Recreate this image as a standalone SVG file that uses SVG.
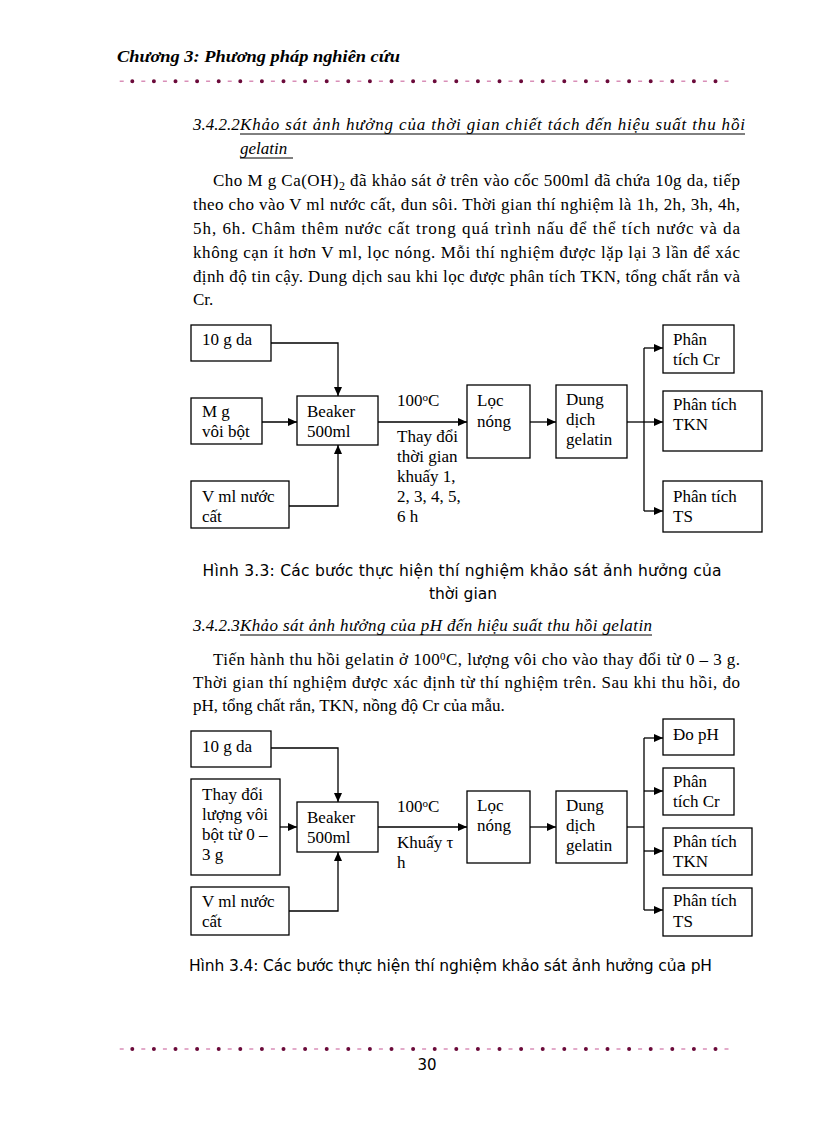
<svg xmlns="http://www.w3.org/2000/svg" width="816" height="1123" viewBox="0 0 816 1123">
<defs>
<marker id="ah" markerUnits="userSpaceOnUse" markerWidth="9" markerHeight="8" refX="9" refY="4" orient="auto">
<path d="M0,0 L9,4 L0,8 z" fill="#000"/>
</marker>
<style>
.box{fill:#fff;stroke:#000;stroke-width:1.3}
.bt{font-family:"Liberation Serif","DejaVu Serif",serif;font-size:17px;fill:#000}
.body{font-family:"Liberation Serif","DejaVu Serif",serif;font-size:17px;fill:#000}
.head{font-family:"Liberation Serif","DejaVu Serif",serif;font-size:17px;font-style:italic;fill:#000}
.cap{font-family:"DejaVu Sans","Liberation Sans",sans-serif;font-size:15.5px;fill:#000}
.con{fill:none;stroke:#000;stroke-width:1.3}
.arr{fill:none;stroke:#000;stroke-width:1.3;marker-end:url(#ah)}
.ul{stroke:#000;stroke-width:1}
</style>
</defs>
<rect width="816" height="1123" fill="#fff"/>

<g id="header">
<text x="117" y="62" font-family="Liberation Serif, serif" font-size="17" font-style="italic" font-weight="bold" textLength="283" lengthAdjust="spacingAndGlyphs">Chương 3:  Phương pháp nghiên cứu</text>
<line x1="119.7" y1="81.3" x2="730" y2="81.3" stroke="#d98fb8" stroke-width="1.5" stroke-dasharray="4 17.6"/>
<line x1="132.3" y1="81.3" x2="730" y2="81.3" stroke="#6b0a3a" stroke-width="4" stroke-linecap="round" stroke-dasharray="0 21.6"/>
</g>

<g id="section1">
<text class="head" x="193" y="130">3.4.2.2</text>
<text class="head" x="240" y="130" textLength="505" lengthAdjust="spacing">Khảo sát ảnh hưởng của thời gian chiết tách đến hiệu suất thu hồi</text>
<line class="ul" x1="240" y1="134" x2="745" y2="134"/>
<text class="head" x="240" y="154">gelatin</text>
<line class="ul" x1="240" y1="158" x2="293" y2="158"/>
<text class="body" x="213" y="186" textLength="527" lengthAdjust="spacing">Cho M g Ca(OH)<tspan font-size="12" dy="4">2</tspan><tspan dy="-4"> đã khảo sát ở trên vào  cốc 500ml đã chứa 10g da, tiếp</tspan></text>
<text class="body" x="193" y="210" textLength="547" lengthAdjust="spacing">theo cho vào V ml nước cất, đun sôi. Thời gian thí nghiệm là 1h, 2h, 3h, 4h,</text>
<text class="body" x="193" y="234" textLength="547" lengthAdjust="spacing">5h, 6h. Châm thêm nước cất trong quá trình nấu để thể tích nước và da</text>
<text class="body" x="193" y="258" textLength="547" lengthAdjust="spacing">không cạn ít hơn V ml, lọc nóng. Mỗi thí nghiệm được lặp lại 3 lần để xác</text>
<text class="body" x="193" y="282" textLength="547" lengthAdjust="spacing">định độ tin cậy. Dung dịch sau khi lọc được phân tích TKN, tổng chất rắn và</text>
<text class="body" x="193" y="305">Cr.</text>
</g>

<g id="connectors1">
<polyline class="arr" points="271,343 338,343 338,396"/>
<line class="arr" x1="262" y1="422" x2="297" y2="422"/>
<polyline class="arr" points="289,506 338,506 338,445"/>
<line class="arr" x1="378" y1="422" x2="467" y2="422"/>
<line class="arr" x1="530" y1="422" x2="556" y2="422"/>
<line class="con" x1="627" y1="422" x2="644" y2="422"/>
<line class="con" x1="644" y1="348" x2="644" y2="511"/>
<line class="arr" x1="644" y1="348" x2="663" y2="348"/>
<line class="arr" x1="644" y1="422" x2="663" y2="422"/>
<line class="arr" x1="644" y1="511" x2="663" y2="511"/>
<text class="bt" x="397" y="406">100<tspan font-size="11" dy="-5">o</tspan><tspan dy="5">C</tspan></text>
<text class="bt" x="397" y="442">Thay  đổi</text>
<text class="bt" x="397" y="462">thời gian</text>
<text class="bt" x="397" y="482">khuấy  1,</text>
<text class="bt" x="397" y="502">2, 3, 4, 5,</text>
<text class="bt" x="397" y="522">6 h</text>
</g>

<g id="d1-da">
<rect class="box" x="191" y="325" width="80" height="36"/>
<text class="bt" x="202" y="345">10 g da</text>
</g>
<g id="d1-voi">
<rect class="box" x="191" y="398" width="71" height="46"/>
<text class="bt" x="202" y="417">M g</text>
<text class="bt" x="202" y="437">vôi bột</text>
</g>
<g id="d1-nuoc">
<rect class="box" x="191" y="481" width="98" height="47"/>
<text class="bt" x="202" y="502">V ml nước</text>
<text class="bt" x="202" y="522">cất</text>
</g>
<g id="d1-beaker">
<rect class="box" x="297" y="396" width="81" height="49"/>
<text class="bt" x="307" y="417">Beaker</text>
<text class="bt" x="307" y="437">500ml</text>
</g>
<g id="d1-loc">
<rect class="box" x="467" y="385" width="63" height="73"/>
<text class="bt" x="477" y="406">Lọc</text>
<text class="bt" x="477" y="427">nóng</text>
</g>
<g id="d1-dung">
<rect class="box" x="556" y="385" width="71" height="73"/>
<text class="bt" x="566" y="405">Dung</text>
<text class="bt" x="566" y="425">dịch</text>
<text class="bt" x="566" y="445">gelatin</text>
</g>
<g id="d1-cr">
<rect class="box" x="663" y="325" width="71" height="48"/>
<text class="bt" x="673" y="345">Phân</text>
<text class="bt" x="673" y="365">tích Cr</text>
</g>
<g id="d1-tkn">
<rect class="box" x="663" y="391" width="99" height="60"/>
<text class="bt" x="673" y="410">Phân tích</text>
<text class="bt" x="673" y="430">TKN</text>
</g>
<g id="d1-ts">
<rect class="box" x="663" y="481" width="99" height="51"/>
<text class="bt" x="673" y="502">Phân tích</text>
<text class="bt" x="673" y="522">TS</text>
</g>

<g id="caption1">
<text class="cap" x="462" y="576" text-anchor="middle" textLength="519" lengthAdjust="spacing">Hình 3.3: Các bước thực hiện thí nghiệm khảo sát ảnh hưởng của</text>
<text class="cap" x="463" y="599" text-anchor="middle">thời gian</text>
</g>

<g id="section2">
<text class="head" x="193" y="631">3.4.2.3</text>
<text class="head" x="240" y="631" textLength="412" lengthAdjust="spacing">Khảo sát ảnh hưởng của pH đến hiệu suất thu hồi gelatin</text>
<line class="ul" x1="240" y1="635" x2="652" y2="635"/>
<text class="body" x="213" y="665" textLength="527" lengthAdjust="spacing">Tiến hành thu hồi gelatin ở 100<tspan font-size="11" dy="-5">0</tspan><tspan dy="5">C, lượng vôi cho vào thay đổi từ 0 – 3 g.</tspan></text>
<text class="body" x="193" y="688" textLength="547" lengthAdjust="spacing">Thời  gian thí nghiệm được xác định từ thí nghiệm trên. Sau khi thu hồi, đo</text>
<text class="body" x="193" y="711">pH, tổng chất rắn, TKN, nồng độ Cr của mẫu.</text>
</g>

<g id="connectors2">
<polyline class="arr" points="271,748 338,748 338,802"/>
<line class="arr" x1="280" y1="827" x2="297" y2="827"/>
<polyline class="arr" points="289,911 338,911 338,852"/>
<line class="arr" x1="378" y1="827" x2="467" y2="827"/>
<line class="arr" x1="530" y1="827" x2="556" y2="827"/>
<line class="con" x1="627" y1="827" x2="644" y2="827"/>
<line class="con" x1="644" y1="738" x2="644" y2="910"/>
<line class="arr" x1="644" y1="738" x2="663" y2="738"/>
<line class="arr" x1="644" y1="791" x2="663" y2="791"/>
<line class="arr" x1="644" y1="851" x2="663" y2="851"/>
<line class="arr" x1="644" y1="910" x2="663" y2="910"/>
<text class="bt" x="397" y="812">100<tspan font-size="11" dy="-5">o</tspan><tspan dy="5">C</tspan></text>
<text class="bt" x="397" y="848">Khuấy  τ</text>
<text class="bt" x="397" y="868">h</text>
</g>

<g id="d2-da">
<rect class="box" x="191" y="731" width="80" height="36"/>
<text class="bt" x="202" y="752">10 g da</text>
</g>
<g id="d2-voi">
<rect class="box" x="191" y="779" width="89" height="96"/>
<text class="bt" x="202" y="800">Thay  đổi</text>
<text class="bt" x="202" y="820">lượng vôi</text>
<text class="bt" x="202" y="840">bột từ 0 –</text>
<text class="bt" x="202" y="860">3 g</text>
</g>
<g id="d2-nuoc">
<rect class="box" x="191" y="887" width="98" height="48"/>
<text class="bt" x="202" y="907">V ml nước</text>
<text class="bt" x="202" y="927">cất</text>
</g>
<g id="d2-beaker">
<rect class="box" x="297" y="802" width="81" height="50"/>
<text class="bt" x="307" y="823">Beaker</text>
<text class="bt" x="307" y="843">500ml</text>
</g>
<g id="d2-loc">
<rect class="box" x="467" y="791" width="63" height="72"/>
<text class="bt" x="477" y="811">Lọc</text>
<text class="bt" x="477" y="831">nóng</text>
</g>
<g id="d2-dung">
<rect class="box" x="556" y="791" width="71" height="72"/>
<text class="bt" x="566" y="811">Dung</text>
<text class="bt" x="566" y="831">dịch</text>
<text class="bt" x="566" y="851">gelatin</text>
</g>
<g id="d2-ph">
<rect class="box" x="663" y="719" width="71" height="36"/>
<text class="bt" x="673" y="740">Đo pH</text>
</g>
<g id="d2-cr">
<rect class="box" x="663" y="768" width="71" height="47"/>
<text class="bt" x="673" y="787">Phân</text>
<text class="bt" x="673" y="807">tích Cr</text>
</g>
<g id="d2-tkn">
<rect class="box" x="663" y="828" width="89" height="47"/>
<text class="bt" x="673" y="847">Phân tích</text>
<text class="bt" x="673" y="867">TKN</text>
</g>
<g id="d2-ts">
<rect class="box" x="663" y="888" width="89" height="48"/>
<text class="bt" x="673" y="906">Phân tích</text>
<text class="bt" x="673" y="927">TS</text>
</g>

<g id="caption2">
<text class="cap" x="189" y="971" textLength="523" lengthAdjust="spacing">Hình 3.4: Các bước thực hiện thí nghiệm khảo sát ảnh hưởng của pH</text>
</g>

<g id="footer">
<line x1="119.7" y1="1049" x2="730" y2="1049" stroke="#d98fb8" stroke-width="1.5" stroke-dasharray="4 17.6"/>
<line x1="132.3" y1="1049" x2="730" y2="1049" stroke="#6b0a3a" stroke-width="4" stroke-linecap="round" stroke-dasharray="0 21.6"/>
<text x="427" y="1070" text-anchor="middle" font-family="DejaVu Sans, sans-serif" font-size="15">30</text>
</g>
</svg>
